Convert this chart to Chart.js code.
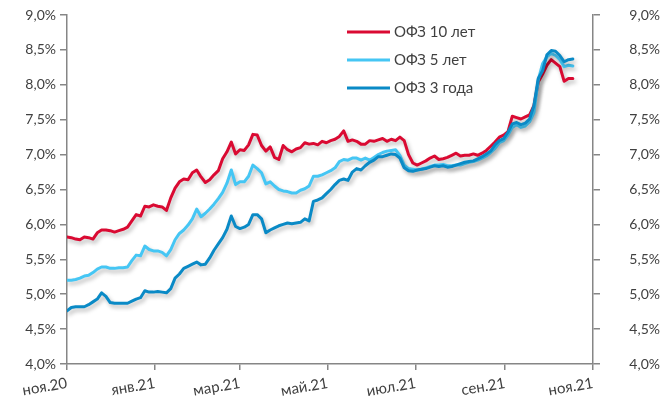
<!DOCTYPE html>
<html><head><meta charset="utf-8">
<script src="https://cdn.jsdelivr.net/npm/chart.js@4.4.0/dist/chart.umd.min.js"></script>
<style>html,body{margin:0;padding:0;background:#fff;}#wrap{width:664px;height:405px;}</style>
</head><body><div id="wrap"><canvas id="c" width="664" height="405"></canvas></div>
<script>
const dates = [
'2020-11-01','2020-11-04','2020-11-07','2020-11-10','2020-11-13','2020-11-16','2020-11-19','2020-11-22','2020-11-25','2020-11-28',
'2020-12-01','2020-12-04','2020-12-07','2020-12-10','2020-12-13','2020-12-16','2020-12-19','2020-12-22','2020-12-25','2020-12-28',
'2020-12-31','2021-01-03','2021-01-06','2021-01-09','2021-01-12','2021-01-15','2021-01-18','2021-01-21','2021-01-24','2021-01-27',
'2021-01-30','2021-02-02','2021-02-05','2021-02-08','2021-02-11','2021-02-14','2021-02-17','2021-02-20','2021-02-23','2021-02-26',
'2021-03-01','2021-03-04','2021-03-07','2021-03-10','2021-03-13','2021-03-16','2021-03-19','2021-03-22','2021-03-25','2021-03-28',
'2021-03-31','2021-04-03','2021-04-06','2021-04-09','2021-04-12','2021-04-15','2021-04-18','2021-04-21','2021-04-24','2021-04-27',
'2021-04-30','2021-05-03','2021-05-06','2021-05-09','2021-05-12','2021-05-15','2021-05-18','2021-05-21','2021-05-24','2021-05-27',
'2021-05-30','2021-06-02','2021-06-05','2021-06-08','2021-06-11','2021-06-14','2021-06-17','2021-06-20','2021-06-23','2021-06-26',
'2021-06-29','2021-07-02','2021-07-05','2021-07-08','2021-07-11','2021-07-14','2021-07-17','2021-07-20','2021-07-23','2021-07-26',
'2021-07-29','2021-08-01','2021-08-04','2021-08-07','2021-08-10','2021-08-13','2021-08-16','2021-08-19','2021-08-22','2021-08-25',
'2021-08-28','2021-08-31','2021-09-03','2021-09-06','2021-09-09','2021-09-12','2021-09-15','2021-09-18','2021-09-21','2021-09-24',
'2021-09-27','2021-09-30','2021-10-03','2021-10-06','2021-10-09','2021-10-12','2021-10-15','2021-10-18'];

const ofz10 = [
5.82,5.81,5.79,5.78,5.82,5.81,5.79,5.88,5.92,5.92,
5.91,5.89,5.91,5.93,5.96,6.05,6.14,6.12,6.26,6.25,
6.28,6.26,6.25,6.20,6.38,6.52,6.61,6.65,6.64,6.74,
6.78,6.68,6.60,6.64,6.71,6.77,6.94,7.04,7.18,7.01,
7.07,7.06,7.14,7.29,7.28,7.13,7.05,7.11,6.96,6.93,
7.13,7.07,7.04,7.08,7.10,7.17,7.15,7.16,7.14,7.19,
7.17,7.20,7.22,7.26,7.34,7.19,7.21,7.19,7.15,7.15,
7.20,7.19,7.21,7.23,7.19,7.22,7.20,7.25,7.20,7.00,
6.88,6.85,6.88,6.91,6.95,6.98,6.93,6.94,6.96,6.99,
7.02,6.98,6.99,6.99,7.01,6.99,7.02,7.06,7.12,7.18,
7.25,7.28,7.33,7.55,7.53,7.51,7.54,7.57,7.70,8.04,
8.15,8.28,8.36,8.31,8.26,8.05,8.09,8.09];

const ofz5 = [
5.20,5.20,5.21,5.23,5.26,5.27,5.31,5.36,5.39,5.39,
5.37,5.37,5.38,5.38,5.39,5.48,5.56,5.55,5.69,5.64,
5.62,5.62,5.60,5.55,5.64,5.78,5.87,5.92,5.99,6.08,
6.22,6.11,6.16,6.22,6.29,6.37,6.46,6.59,6.78,6.57,
6.61,6.61,6.69,6.85,6.80,6.74,6.58,6.61,6.55,6.50,
6.48,6.47,6.45,6.45,6.49,6.51,6.55,6.69,6.69,6.71,
6.74,6.77,6.81,6.90,6.93,6.92,6.95,6.95,6.92,6.95,
6.92,6.96,7.00,7.03,7.05,7.06,7.07,6.99,6.85,6.80,
6.79,6.78,6.79,6.81,6.83,6.85,6.85,6.86,6.84,6.84,
6.85,6.85,6.87,6.89,6.90,6.92,6.95,6.98,7.03,7.09,
7.17,7.20,7.28,7.39,7.43,7.39,7.41,7.47,7.60,8.07,
8.30,8.40,8.45,8.42,8.36,8.26,8.28,8.27];

const ofz3 = [
4.76,4.81,4.82,4.82,4.82,4.85,4.89,4.93,5.02,4.97,
4.88,4.87,4.87,4.87,4.87,4.90,4.93,4.95,5.05,5.03,
5.03,5.04,5.03,5.02,5.08,5.23,5.29,5.37,5.40,5.43,
5.46,5.42,5.43,5.52,5.63,5.72,5.81,5.93,6.12,5.97,
5.94,5.96,6.00,6.14,6.14,6.08,5.88,5.92,5.95,5.98,
6.00,6.02,6.01,6.02,6.03,6.08,6.05,6.33,6.35,6.38,
6.44,6.50,6.57,6.63,6.65,6.63,6.75,6.80,6.78,6.84,
6.89,6.92,6.97,6.97,6.99,7.01,7.00,6.95,6.81,6.77,
6.76,6.78,6.79,6.80,6.82,6.84,6.83,6.84,6.82,6.83,
6.85,6.87,6.89,6.90,6.91,6.94,6.97,7.01,7.05,7.14,
7.20,7.23,7.32,7.44,7.46,7.43,7.45,7.51,7.70,8.09,
8.20,8.43,8.49,8.48,8.42,8.33,8.36,8.37];

const seriesNames = ['ОФЗ 10 лет', 'ОФЗ 5 лет', 'ОФЗ 3 года'];
const seriesColors = ['#DA0A32', '#45C6F4', '#0A8AC6'];
const tickDates = ['2020-11-01','2021-01-01','2021-03-01','2021-05-01','2021-07-01','2021-09-01','2021-11-01'];
const tickLabels = ['ноя.20','янв.21','мар.21','май.21','июл.21','сен.21','ноя.21'];

const DAY = 86400000;
const t0 = Date.parse(tickDates[0]);
const toDay = d => Math.round((Date.parse(d) - t0) / DAY);
const tickDays = tickDates.map(toDay);
const mk = arr => arr.map((v, i) => ({x: toDay(dates[i]), y: v}));

const FONT = 'Lato, "Open Sans", sans-serif';
const TXT = '#404040';
const AX = '#868686';

const shadowPlugin = {
  id: 'shadow',
  beforeDatasetDraw(chart) {
    const c = chart.ctx; c.save();
    c.shadowColor = 'rgba(0,0,0,0.28)'; c.shadowBlur = 4; c.shadowOffsetX = 2; c.shadowOffsetY = 3;
  },
  afterDatasetDraw(chart) { chart.ctx.restore(); }
};

const legendPlugin = {
  id: 'customLegend',
  afterDraw(chart) {
    const c = chart.ctx; c.save();
    c.font = '15px ' + FONT; c.textBaseline = 'middle'; c.fillStyle = TXT;
    chart.data.datasets.forEach((ds, i) => {
      const y = 32 + i * 28;
      c.strokeStyle = ds.borderColor; c.lineWidth = 3; c.lineCap = 'butt';
      c.beginPath(); c.moveTo(347, y); c.lineTo(390, y); c.stroke();
      c.fillText(ds.label, 394, y);
    });
    c.restore();
  }
};

const yFmt = v => v.toFixed(1).replace('.', ',') + '%';
const yCommon = {
  type: 'linear', min: 4, max: 9,
  ticks: {stepSize: 0.5, callback: yFmt, color: TXT, font: {family: FONT, size: 14}, padding: 4},
  grid: {drawOnChartArea: false, tickLength: 7, color: AX, lineWidth: 1.5},
  border: {color: AX, width: 1.5}
};

new Chart(document.getElementById('c'), {
  type: 'line',
  data: {
    datasets: [
      {label: seriesNames[0], data: mk(ofz10), borderColor: seriesColors[0], order: 3},
      {label: seriesNames[1], data: mk(ofz5), borderColor: seriesColors[1], order: 2},
      {label: seriesNames[2], data: mk(ofz3), borderColor: seriesColors[2], order: 1}
    ].map(d => Object.assign(d, {borderWidth: 3, pointRadius: 0, tension: 0, fill: false, borderJoinStyle: 'round', borderCapStyle: 'round'}))
  },
  options: {
    responsive: false, animation: false, devicePixelRatio: 1,
    layout: {padding: {top: 15, left: 0, right: 4, bottom: 0}},
    plugins: {legend: {display: false}, tooltip: {enabled: false}},
    scales: {
      x: {
        type: 'linear', min: tickDays[0], max: tickDays[tickDays.length - 1],
        afterBuildTicks: s => { s.ticks = tickDays.map(v => ({value: v})); },
        afterFit: s => { s.height = 41; },
        ticks: {autoSkip: false, minRotation: 10, maxRotation: 10, color: TXT, font: {family: FONT, size: 15},
                callback: v => tickLabels[tickDays.indexOf(v)], padding: 4},
        grid: {drawOnChartArea: false, tickLength: 6, color: AX, lineWidth: 1.5},
        border: {color: AX, width: 1.5}
      },
      y: Object.assign({}, yCommon, {position: 'left', afterFit: s => { s.width = 67; }}),
      y2: Object.assign({}, yCommon, {position: 'right', afterFit: s => { s.width = 67; },
        ticks: Object.assign({}, yCommon.ticks, {crossAlign: 'far'})})
    }
  },
  plugins: [shadowPlugin, legendPlugin]
});
</script></body></html>
